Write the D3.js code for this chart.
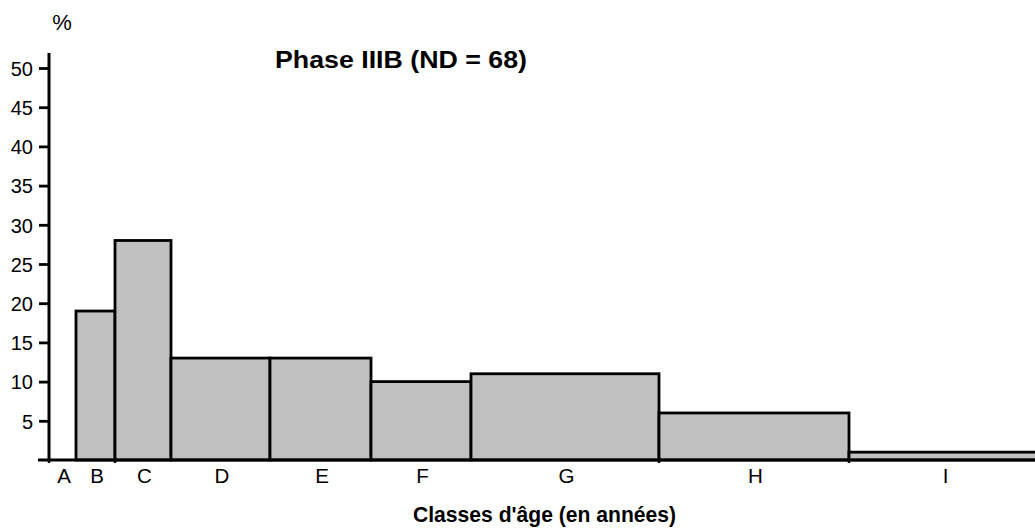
<!DOCTYPE html>
<html><head><meta charset="utf-8">
<script src="https://cdn.jsdelivr.net/npm/d3@7"></script>
<style>
html,body{margin:0;padding:0;background:#fff;}
svg{display:block;font-family:"Liberation Sans",Arial,sans-serif;}
</style></head>
<body>
<svg id="c" width="1035" height="529"></svg>
<script>
const categories = ["A","B","C","D","E","F","G","H","I"];
const values = [0, 19, 28, 13, 13, 10, 11, 6, 1];
const edges = [0, 1.35, 3.3, 6.1, 11.05, 16.1, 21.1, 30.5, 40, 49.5];
const edgeTicks = [0, 3.3, 30.5, 40];
const yTicks = [5, 10, 15, 20, 25, 30, 35, 40, 45, 50];
const title = "Phase IIIB (ND = 68)";
const xTitle = "Classes d'âge (en années)";
const yUnit = "%";

const svg = d3.select("#c");
const x = d3.scaleLinear().domain([0, 49.3]).range([49, 1035]);
const y = d3.scaleLinear().domain([0, 50]).range([460, 68]);

const bars = categories.map((c, i) => ({c, v: values[i], x0: edges[i], x1: edges[i+1]}));

svg.selectAll("rect.bar").data(bars.filter(d => d.v > 0)).join("rect")
  .attr("class", "bar")
  .attr("x", d => x(d.x0)).attr("y", d => y(d.v))
  .attr("width", d => x(d.x1) - x(d.x0)).attr("height", d => y(0) - y(d.v))
  .attr("fill", "#c0c0c0").attr("stroke", "#000").attr("stroke-width", 2.8);

// baseline
svg.append("line").attr("x1", 38).attr("x2", 1035).attr("y1", y(0)).attr("y2", y(0))
  .attr("stroke", "#000").attr("stroke-width", 3);
// edge ticks below baseline
svg.selectAll("line.et").data(edgeTicks).join("line").attr("class", "et")
  .attr("x1", d => x(d)).attr("x2", d => x(d)).attr("y1", y(0)).attr("y2", y(0) + 3)
  .attr("stroke", "#000").attr("stroke-width", 2.4);

// y axis
const yAxis = d3.axisLeft(y).tickValues(yTicks).tickSize(10).tickPadding(6).tickFormat(d3.format("d"));
const ga = svg.append("g").attr("transform", "translate(49,0)").call(yAxis);
ga.select(".domain").remove();
ga.selectAll(".tick line").attr("stroke", "#000").attr("stroke-width", 2.8);
ga.selectAll(".tick text").attr("font-size", 20).attr("fill", "#000")
  .attr("font-family", "'Liberation Sans',Arial,sans-serif").attr("dy", "0.36em");
svg.append("line").attr("x1", 49).attr("x2", 49).attr("y1", 53).attr("y2", y(0) + 1.5)
  .attr("stroke", "#000").attr("stroke-width", 3);

// category labels
svg.selectAll("text.cat").data(bars).join("text").attr("class", "cat")
  .attr("x", d => (x(d.x0) + x(d.x1)) / 2 + 1.5)
  .attr("y", 483).attr("text-anchor", "middle").attr("font-size", 20.5)
  .text(d => d.c);

svg.append("text").attr("x", 62).attr("y", 30).attr("text-anchor", "middle")
  .attr("font-size", 22).text(yUnit);
svg.append("text").attr("x", 275).attr("y", 68)
  .attr("font-size", 23).attr("font-weight", "bold")
  .attr("textLength", 252).attr("lengthAdjust", "spacingAndGlyphs").text(title);
svg.append("text").attr("x", 413).attr("y", 522)
  .attr("font-size", 21.5).attr("font-weight", "bold")
  .attr("textLength", 263).attr("lengthAdjust", "spacingAndGlyphs").text(xTitle);
</script>
</body></html>
